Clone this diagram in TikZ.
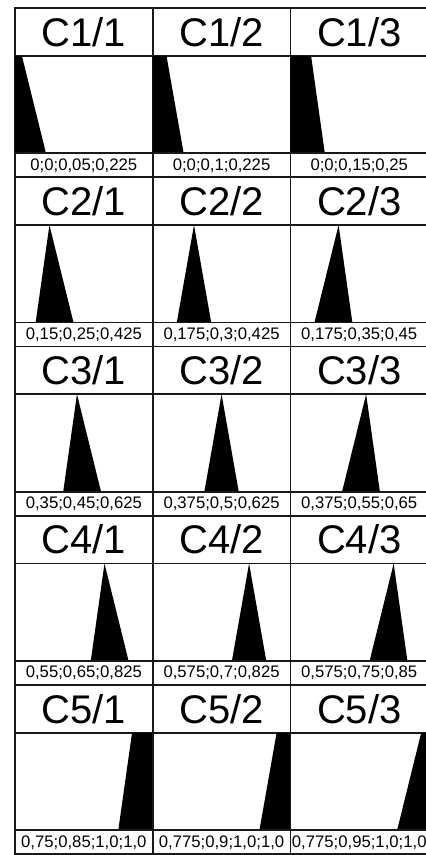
\documentclass[tikz,border=0pt]{standalone}
\usepackage{fontspec}
\setmainfont{Liberation Sans}
\usetikzlibrary{calc}
\newcommand\mfcell[8]{% #1 row, #2 col, #3 title, #4 label, #5 a, #6 b, #7 c, #8 d
  \pgfmathsetmacro\cellx{15+137.7*#2}
  \pgfmathsetmacro\celly{8+169.25*#1}
  \node[titlebox, anchor=north west] (t#1#2) at (\cellx,\celly) {#3};
  \node[panelbox, anchor=north west] (p#1#2) at (\cellx,\celly+47.75) {};
  \fill[shapefill] ($(p#1#2.south west)!#5!(p#1#2.south east)$)
    -- ($(p#1#2.north west)!#6!(p#1#2.north east)$)
    -- ($(p#1#2.north west)!#7!(p#1#2.north east)$)
    -- ($(p#1#2.south west)!#8!(p#1#2.south east)$) -- cycle;
  \node[labelbox, anchor=north west] (l#1#2) at (\cellx,\celly+145.25) {#4};
}
\begin{document}
\begin{tikzpicture}[x=1pt,y=-1pt,
  cellbase/.style={draw=black!90, line width=1.8pt, rectangle, inner sep=0pt, outer sep=0pt, minimum width=137.7pt},
  titlebox/.style={cellbase, minimum height=47.75pt, font=\fontsize{40}{40}\selectfont},
  panelbox/.style={cellbase, minimum height=97.5pt},
  labelbox/.style={cellbase, minimum height=24pt, font=\fontsize{16.7}{16.7}\selectfont},
  shapefill/.style={fill=black}]
\useasboundingbox (0,0) rectangle (426,855);
\fill[white] (0,0) rectangle (426,855);
\mfcell{0}{0}{C1/1}{0;0;0,05;0,225}{0}{0}{0.05}{0.225}
\mfcell{0}{1}{C1/2}{0;0;0,1;0,225}{0}{0}{0.1}{0.225}
\mfcell{0}{2}{C1/3}{0;0;0,15;0,25}{0}{0}{0.15}{0.25}
\mfcell{1}{0}{C2/1}{0,15;0,25;0,425}{0.15}{0.25}{0.25}{0.425}
\mfcell{1}{1}{C2/2}{0,175;0,3;0,425}{0.175}{0.3}{0.3}{0.425}
\mfcell{1}{2}{C2/3}{0,175;0,35;0,45}{0.175}{0.35}{0.35}{0.45}
\mfcell{2}{0}{C3/1}{0,35;0,45;0,625}{0.35}{0.45}{0.45}{0.625}
\mfcell{2}{1}{C3/2}{0,375;0,5;0,625}{0.375}{0.5}{0.5}{0.625}
\mfcell{2}{2}{C3/3}{0,375;0,55;0,65}{0.375}{0.55}{0.55}{0.65}
\mfcell{3}{0}{C4/1}{0,55;0,65;0,825}{0.55}{0.65}{0.65}{0.825}
\mfcell{3}{1}{C4/2}{0,575;0,7;0,825}{0.575}{0.7}{0.7}{0.825}
\mfcell{3}{2}{C4/3}{0,575;0,75;0,85}{0.575}{0.75}{0.75}{0.85}
\mfcell{4}{0}{C5/1}{0,75;0,85;1,0;1,0}{0.75}{0.85}{1}{1}
\mfcell{4}{1}{C5/2}{0,775;0,9;1,0;1,0}{0.775}{0.9}{1}{1}
\mfcell{4}{2}{C5/3}{0,775;0,95;1,0;1,0}{0.775}{0.95}{1}{1}
\end{tikzpicture}
\end{document}
